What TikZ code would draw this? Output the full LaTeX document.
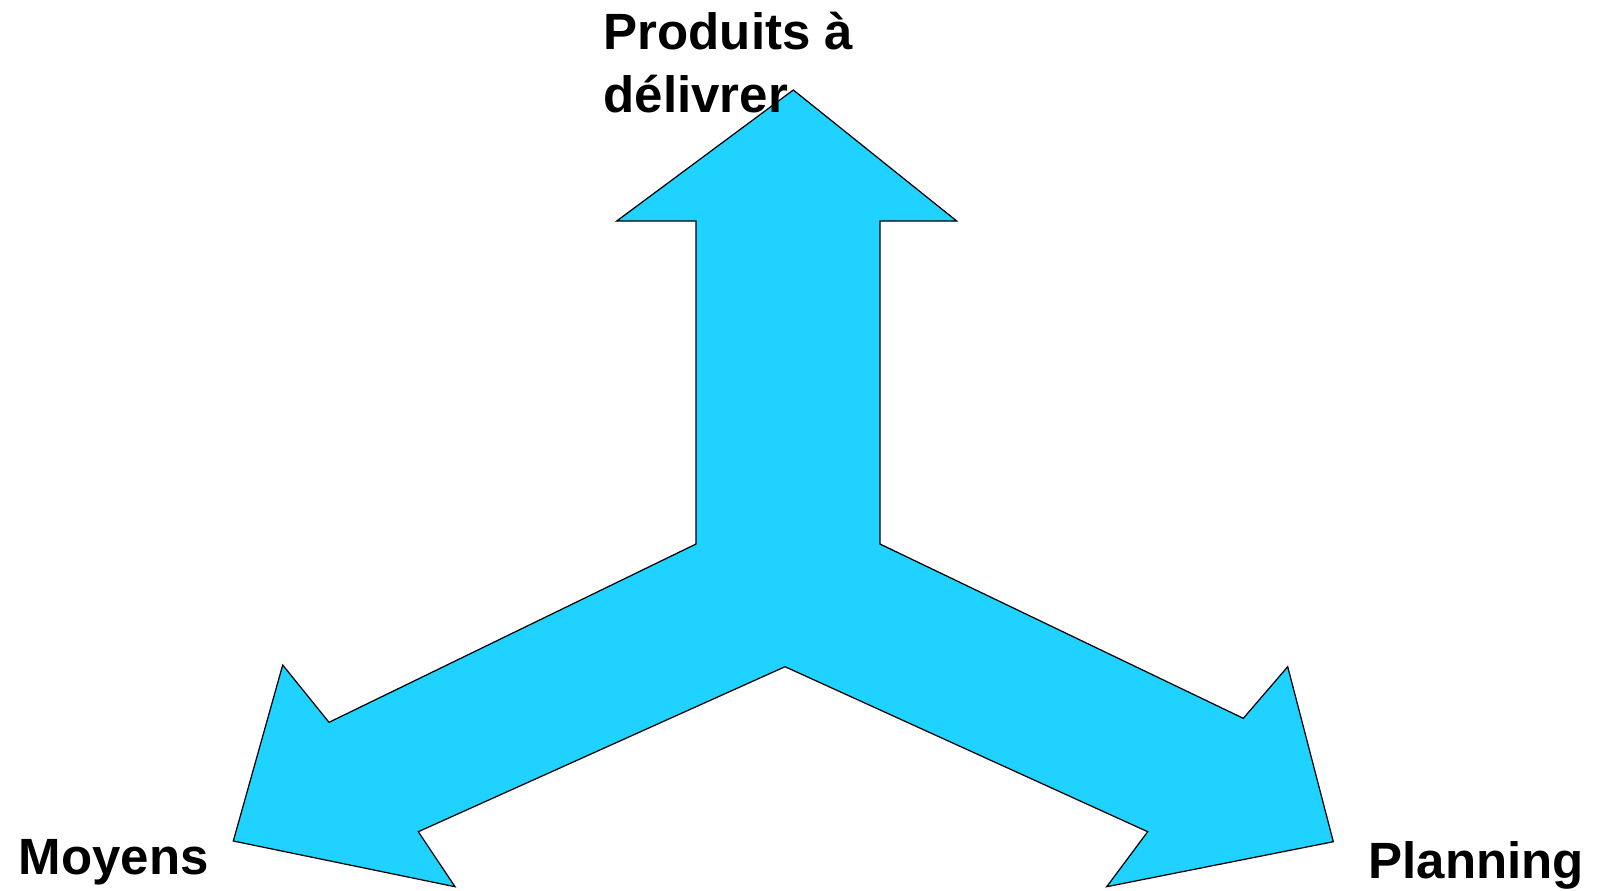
\documentclass[tikz,border=0pt]{standalone}
\usepackage{fontspec}
\setmainfont{Liberation Sans}
\definecolor{arrowblue}{RGB}{31,210,255}
\begin{document}
\begin{tikzpicture}[x=0.01cm,y=-0.01cm,
  lbl/.style={font=\fontsize{14.5pt}{17.9pt}\selectfont\bfseries, inner sep=0pt, anchor=base west, align=left},
  arrowshape/.style={fill=arrowblue, draw=black, line width=0.35pt, line join=miter}]
\useasboundingbox (0,0) rectangle (1597,890);
\coordinate (apex) at (793.3,90);
\draw[arrowshape] (apex) -- (956.7,221) -- (880,221) -- (880,544) -- (1243.3,718.3) -- (1287.7,666.7) -- (1333.3,841.7) -- (1106.7,886.7) -- (1147.7,831.7) -- (785,666.7) -- (418.3,831.7) -- (455,886.7) -- (233.3,841) -- (282.7,665) -- (329,722.3) -- (696,544) -- (696,221) -- (616.7,221) -- cycle;
\node[lbl] (prod) at (603,112) {Produits à\\délivrer};
\node[lbl] (moy) at (18,874) {Moyens};
\node[lbl] (plan) at (1368,878) {Planning};
\end{tikzpicture}
\end{document}
